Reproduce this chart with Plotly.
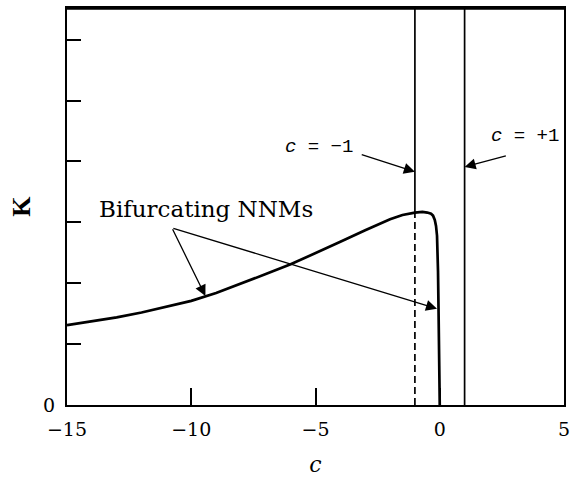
import plotly.graph_objects as go

# Backbone curve of the bifurcating NNM branch: K as a function of c
c_vals = [-15, -14, -13, -12, -11, -10, -9, -8, -7, -6, -5, -4, -3, -2.5,
          -2, -1.5, -1, -0.7, -0.5, -0.35, -0.27, -0.2, -0.15, -0.11,
          -0.09, -0.07, -0.05, -0.03, -0.015, 0.0]
K_vals = [1.31, 1.37, 1.44, 1.52, 1.61, 1.71, 1.84, 1.99, 2.15, 2.31, 2.49,
          2.68, 2.87, 2.96, 3.05, 3.12, 3.16, 3.17, 3.16, 3.14, 3.11, 3.04,
          2.94, 2.78, 2.60, 2.20, 1.60, 1.00, 0.50, 0.0]

# Reference lines c = -1 and c = +1
c_lines = [-1, 1]
K_peak = 3.17

x_ticks = [-15, -10, -5, 0, 5]
x_text = ["−15", "−10", "−5", "0", "5"]
y_ticks = [0, 1, 2, 3, 4, 5, 6]
y_text = ["0", "", "", "", "", "", ""]
x_range = [-15, 5]
y_range = [0, 6.52]

serif = "DejaVu Serif, Liberation Serif, serif"
mono = "Liberation Mono, Courier New, monospace"

fig = go.Figure()

fig.add_trace(go.Scatter(x=c_vals, y=K_vals, mode="lines",
                         line=dict(color="black", width=2.7),
                         hoverinfo="skip", showlegend=False))

# c = -1: solid above the curve, dashed below it
fig.add_trace(go.Scatter(x=[c_lines[0], c_lines[0]], y=[K_peak, y_range[1]],
                         mode="lines", line=dict(color="black", width=1.7),
                         hoverinfo="skip", showlegend=False))
fig.add_trace(go.Scatter(x=[c_lines[0], c_lines[0]], y=[0, K_peak],
                         mode="lines",
                         line=dict(color="black", width=1.7, dash="7px,4px"),
                         hoverinfo="skip", showlegend=False))
# c = +1
fig.add_trace(go.Scatter(x=[c_lines[1], c_lines[1]], y=[0, y_range[1]],
                         mode="lines", line=dict(color="black", width=1.7),
                         hoverinfo="skip", showlegend=False))

arrow = dict(showarrow=True, arrowhead=2, arrowsize=1.7, arrowwidth=1.3,
             arrowcolor="black", xref="x", yref="y", axref="x", ayref="y",
             text="")
annotations = [
    # Bifurcating NNMs pointers
    dict(x=-9.43, y=1.79, ax=-10.78, ay=2.91, **arrow),
    dict(x=-0.11, y=1.58, ax=-10.78, ay=2.91, **arrow),
    # c = -1 pointer
    dict(x=-1.0, y=3.83, ax=-3.2, ay=4.12, **arrow),
    # c = +1 pointer
    dict(x=1.0, y=3.91, ax=2.72, ay=4.10, **arrow),
    dict(x=-9.39, y=3.22, xref="x", yref="y", showarrow=False,
         text="Bifurcating NNMs", font=dict(family=serif, size=23, color="black")),
    dict(x=-4.86, y=4.23, xref="x", yref="y", showarrow=False,
         text="<i>c</i> = −1", font=dict(family=mono, size=19, color="black")),
    dict(x=3.45, y=4.42, xref="x", yref="y", showarrow=False,
         text="<i>c</i> = +1", font=dict(family=mono, size=19, color="black")),
]

fig.update_layout(
    width=576, height=479,
    margin=dict(l=67, r=7, t=6, b=72),
    paper_bgcolor="white", plot_bgcolor="white",
    annotations=annotations,
    showlegend=False,
    xaxis=dict(range=x_range, tickvals=x_ticks, ticktext=x_text,
               ticks="inside", ticklen=17, tickwidth=1.6, tickcolor="black",
               ticklabelstandoff=6,
               showline=True, linecolor="black", linewidth=2, mirror=True,
               showgrid=False, zeroline=False,
               tickfont=dict(family=serif, size=19, color="black"),
               title=dict(text="<i>c</i>", standoff=18,
                          font=dict(family=serif, size=22, color="black"))),
    yaxis=dict(range=y_range, tickvals=y_ticks, ticktext=y_text,
               ticks="inside", ticklen=14, tickwidth=1.6, tickcolor="black",
               ticklabelstandoff=6,
               showline=True, linecolor="black", linewidth=2, mirror=True,
               showgrid=False, zeroline=False,
               tickfont=dict(family=serif, size=19, color="black"),
               title=dict(text="<b>K</b>", standoff=5,
                          font=dict(family="Liberation Serif, serif", size=26,
                                    color="black"))),
)

# heavier top border
fig.add_shape(type="line", xref="paper", yref="paper", x0=0, x1=1, y0=1, y1=1,
              line=dict(color="black", width=3.5))

fig.write_html("out.html")
